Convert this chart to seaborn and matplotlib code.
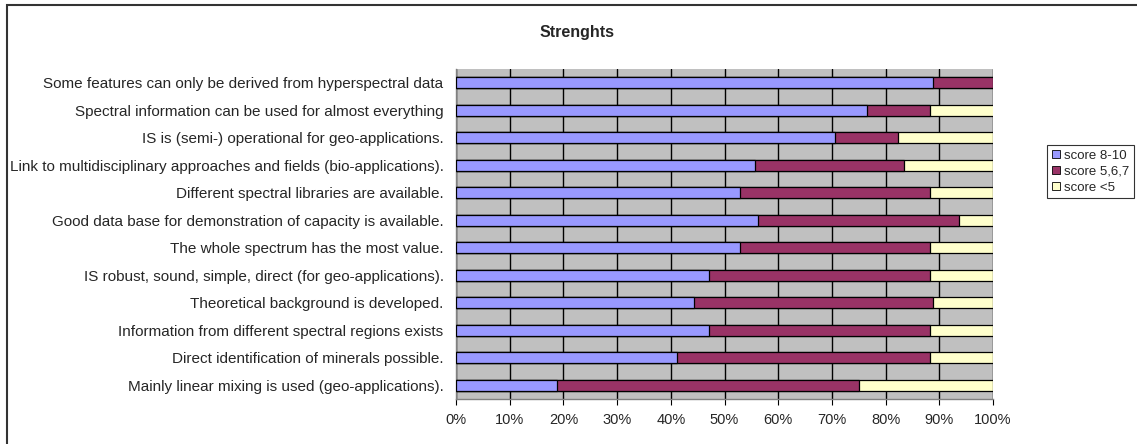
import matplotlib
matplotlib.use("Agg")
import matplotlib.pyplot as plt
import seaborn as sns
import pandas as pd
import numpy as np
from matplotlib.patches import Rectangle, Patch
from matplotlib.ticker import PercentFormatter, MultipleLocator

sns.set_style("white")
plt.rcParams["font.family"] = ["Liberation Sans", "DejaVu Sans"]

statements = [
    "Some features can only be derived from hyperspectral data",
    "Spectral information can be used for almost everything",
    "IS is (semi-) operational for geo-applications.",
    "Link to multidisciplinary approaches and fields (bio-applications).",
    "Different spectral libraries are available.",
    "Good data base for demonstration of capacity is available.",
    "The whole spectrum has the most value.",
    "IS robust, sound, simple, direct (for geo-applications).",
    "Theoretical background is developed.",
    "Information from different spectral regions exists",
    "Direct identification of minerals possible.",
    "Mainly linear mixing is used (geo-applications).",
]
score_high = [88.9, 76.5, 70.6, 55.6, 52.9, 56.25, 52.9, 47.1, 44.4, 47.1, 41.2, 18.75]
score_mid = [11.1, 11.8, 11.8, 27.8, 35.3, 37.5, 35.3, 41.2, 44.4, 41.2, 47.1, 56.25]
score_low = [0.0, 11.8, 17.6, 16.6, 11.8, 6.25, 11.8, 11.7, 11.2, 11.7, 11.7, 25.0]

series_names = ["score 8-10", "score 5,6,7", "score <5"]
colors = ["#9999FF", "#993366", "#FFFFCC"]

df = pd.DataFrame({
    "statement": statements,
    "high": score_high,
    "mid": score_mid,
    "low": score_low,
})
df["c1"] = df["high"]
df["c2"] = df["high"] + df["mid"]
df["c3"] = df["high"] + df["mid"] + df["low"]

W, H = 1137, 444
fig = plt.figure(figsize=(W / 100, H / 100), dpi=100)
ax = fig.add_axes([456 / W, 1 - 399 / H, (993 - 456) / W, (399 - 69) / H])
ax.set_facecolor("#C0C0C0")

# stacked segments drawn as overlapping cumulative bars, widest first
for col, color in zip(["c3", "c2", "c1"], colors[::-1]):
    sns.barplot(data=df, x=col, y="statement", order=statements, color=color,
                orient="h", width=0.4, edgecolor="black", linewidth=0.9,
                saturation=1, ax=ax, zorder=3)

ax.set_xlim(0, 100)
ax.set_ylim(len(statements) - 0.5, -0.5)
ax.xaxis.set_major_locator(MultipleLocator(10))
ax.xaxis.set_major_formatter(PercentFormatter(decimals=0))
ax.grid(axis="x", color="black", linewidth=1.0, zorder=1)
ax.set_axisbelow(True)
ax.set_xlabel("")
ax.set_ylabel("")

for s in ["top", "right"]:
    ax.spines[s].set_visible(False)
for s in ["left", "bottom"]:
    ax.spines[s].set_color("#808080")
    ax.spines[s].set_linewidth(1.0)

ax.set_yticks(np.arange(-0.5, len(statements), 1.0), minor=True)
ax.tick_params(axis="y", which="major", length=0, pad=9, labelsize=11)
ax.tick_params(axis="y", which="minor", length=4, color="black", width=0.8)
ax.tick_params(axis="x", which="major", length=4, color="black", width=0.8,
               labelsize=10.5, pad=6, direction="out")
ax.tick_params(axis="x", bottom=True)

fig.text(577 / W, 1 - 33 / H, "Strenghts", ha="center", va="center",
         fontsize=11.5, fontweight="bold")

handles = [Patch(facecolor=c, edgecolor="black", linewidth=0.6, label=n)
           for n, c in zip(series_names, colors)]
leg = fig.legend(handles=handles, loc="upper right",
                 bbox_to_anchor=(1134 / W, 1 - 145 / H),
                 fontsize=9.5, frameon=True, fancybox=False, borderpad=0.35,
                 handlelength=0.6, handleheight=0.6, handletextpad=0.35,
                 labelspacing=0.3, borderaxespad=0)
leg.get_frame().set_edgecolor("black")
leg.get_frame().set_linewidth(0.8)

fig.patches.append(Rectangle((7 / W, -0.05), 1.2, 1 - 5 / H + 0.05,
                             transform=fig.transFigure, fill=False,
                             edgecolor="#333333", linewidth=1.5))

fig.savefig("out.png", dpi=100)
